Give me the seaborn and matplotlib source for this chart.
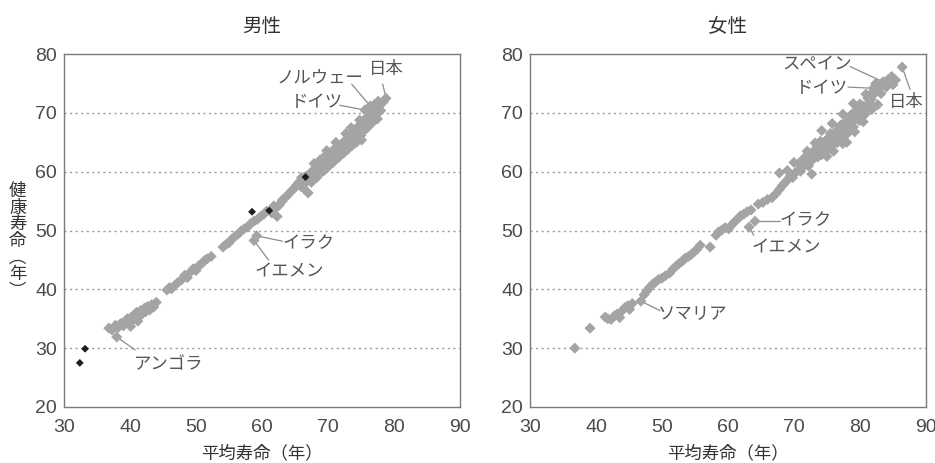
import matplotlib
matplotlib.use("Agg")
import matplotlib.pyplot as plt
import seaborn as sns
import pandas as pd

# ---- 男性: 平均寿命 (x) と 健康寿命 (y) ----
male_life = [
    36.8, 37.3, 37.8, 38.2, 38.6, 39.0, 39.3, 39.6, 39.9, 40.2, 40.5, 40.8, 41.0, 41.3,
    41.6, 41.9, 42.2, 42.4, 42.7, 43.0, 43.3, 43.6, 44.0, 40.1, 41.2,
    45.6, 46.0, 46.3, 46.8, 47.3, 47.8, 48.3, 48.7, 49.2, 49.6, 50.0, 50.4, 50.8, 51.3,
    51.7, 52.3,
    54.1, 54.5, 55.0, 55.4, 55.9, 56.4, 56.8, 57.3, 57.8, 58.3, 58.8, 59.3,
    59.8, 60.3, 60.7, 61.5, 62.0, 62.3, 62.6, 63.0, 63.4, 63.8, 64.2, 64.6, 61.8, 63.1,
    65.0, 65.3, 65.6, 65.9, 66.2, 66.5, 66.8, 67.0, 67.2, 67.4, 67.7, 68.0, 68.2, 68.5,
    68.7, 69.0, 69.2, 69.5, 69.7, 70.0, 70.2, 70.4, 70.7, 71.0, 71.2, 71.5, 71.8, 72.0,
    72.3, 72.6, 72.9, 73.2, 73.5, 73.8, 74.1, 74.4, 74.7, 75.1, 75.3, 75.6, 75.9, 76.2,
    76.5, 76.8, 77.1, 77.4, 77.5, 77.8, 78.1, 78.4, 66.0, 68.8, 70.5, 71.4, 72.8, 74.0,
    75.5, 76.0, 77.0, 69.4,
    66.3, 67.5, 68.3, 69.1, 70.0, 70.8, 71.6, 72.4, 73.0, 73.7, 74.3, 75.0, 75.8, 76.6,
    77.3, 67.9, 69.8, 71.2, 72.7, 73.5, 74.8, 76.3, 77.6, 78.0,
    38.0, 59.2, 58.8, 75.6, 76.4, 78.8,
]
male_healthy = [
    33.4, 33.1, 33.9, 33.5, 34.2, 33.8, 34.6, 35.0, 34.3, 35.3, 34.8, 35.6, 36.1, 35.2,
    36.4, 35.9, 36.8, 36.2, 37.1, 36.5, 37.4, 37.0, 37.8, 33.7, 34.6,
    39.9, 40.3, 40.1, 40.7, 41.2, 41.6, 42.4, 42.0, 43.0, 43.5, 43.2, 44.0, 44.3, 44.9,
    45.2, 45.6,
    47.2, 47.6, 47.9, 48.5, 49.0, 49.4, 49.9, 50.3, 50.6, 51.2, 51.6, 51.9,
    52.4, 52.8, 53.3, 53.0, 53.7, 52.4, 54.3, 54.9, 55.5, 55.9, 56.4, 56.9, 54.2, 55.2,
    57.3, 57.8, 58.2, 57.5, 58.6, 58.0, 59.3, 56.4, 58.8, 59.7, 60.2, 59.6, 60.8, 61.2,
    60.4, 61.7, 62.3, 61.5, 62.7, 62.1, 63.2, 62.6, 63.6, 63.0, 64.0, 63.5, 64.5, 63.9,
    65.0, 64.4, 65.5, 65.9, 65.2, 66.4, 66.9, 67.5, 66.6, 65.4, 68.0, 68.6, 69.3, 68.9,
    69.8, 70.3, 70.8, 70.0, 69.0, 71.2, 71.6, 71.9, 59.0, 62.0, 61.8, 62.8, 64.0, 65.6,
    67.2, 70.2, 71.4, 60.2,
    57.2, 58.2, 59.0, 60.0, 60.8, 61.6, 62.4, 63.2, 63.8, 64.5, 65.0, 66.2, 67.3, 68.2,
    69.0, 61.4, 63.6, 65.0, 66.5, 67.5, 68.8, 70.8, 72.0, 70.4,
    31.9, 49.1, 48.3, 70.5, 71.2, 72.5,
]
# 黒で示す国
male_dark_life = [32.4, 33.2, 58.5, 61.1, 66.6]
male_dark_healthy = [27.5, 29.9, 53.2, 53.4, 59.1]

# ---- 女性 ----
female_life = [
    36.8, 39.1, 41.4, 41.8, 42.3, 42.8, 43.2, 43.6, 44.0, 44.4, 44.8, 45.1, 45.5,
    46.8, 47.3, 47.7, 48.1, 48.6, 49.0, 49.5, 50.0, 50.5, 51.2, 51.7, 52.2, 52.6, 53.1,
    53.5, 54.0, 54.4, 54.9, 55.3, 55.8, 57.3, 58.2, 58.6, 59.1, 59.6, 60.1, 60.6, 61.0,
    61.5, 61.9, 62.4, 62.9, 63.5, 64.6, 65.3, 66.0, 66.7, 67.3, 67.8, 68.2, 68.6, 69.0,
    69.4, 69.8, 70.2, 70.6, 71.0, 71.4, 71.8, 72.2, 72.7, 72.6, 73.0, 73.3, 73.6, 73.9,
    74.2, 74.5, 74.8, 75.1, 75.4, 75.7, 76.0, 76.3, 76.6, 76.9, 77.2, 77.5, 77.8, 78.1,
    78.4, 78.7, 79.0, 79.3, 79.6, 79.9, 80.2, 80.5, 80.8, 81.1, 81.4, 81.7, 82.3, 82.7,
    82.6, 83.0, 83.4, 83.8, 84.2, 84.6, 85.0, 85.4, 74.0, 75.5, 77.0, 78.5, 80.0, 76.0,
    78.0, 80.5, 72.0, 73.2,
    70.8, 71.6, 72.4, 73.2, 74.0, 74.8, 75.6, 76.4, 77.2, 78.0, 78.8, 79.6, 80.4, 81.2,
    82.0, 83.2, 84.0, 85.0, 74.2, 75.8, 77.4, 79.0, 80.9, 81.8, 79.2, 77.4, 75.0, 82.4,
    84.8, 69.0, 70.0, 67.8,
    83.5, 82.0, 86.4, 64.1, 63.2,
]
female_healthy = [
    30.0, 33.4, 35.3, 35.0, 34.9, 35.5, 35.8, 35.2, 36.4, 36.9, 37.2, 36.6, 37.6,
    38.0, 39.1, 39.7, 40.3, 40.9, 41.2, 41.7, 41.9, 42.3, 42.8, 43.5, 44.0, 44.4, 44.8,
    45.3, 45.6, 45.9, 46.4, 46.8, 47.5, 47.2, 49.2, 49.8, 50.1, 50.5, 50.3, 51.0, 51.5,
    52.0, 52.5, 52.8, 53.2, 53.5, 54.5, 54.8, 55.3, 55.6, 56.3, 57.0, 57.6, 58.1, 58.6,
    59.2, 59.0, 59.8, 60.3, 60.1, 60.9, 61.4, 61.0, 59.6, 61.8, 62.3, 63.0, 62.5, 63.6,
    62.9, 64.1, 63.4, 64.6, 64.0, 65.1, 64.6, 65.6, 65.0, 66.2, 65.6, 66.7, 67.3, 66.5,
    67.8, 68.4, 67.6, 68.9, 69.5, 68.7, 70.0, 70.6, 69.8, 71.1, 71.8, 72.3, 73.4, 71.4,
    74.0, 74.4, 74.9, 75.2, 75.6, 75.4, 75.9, 75.6, 65.2, 66.5, 67.8, 69.5, 71.5, 63.5,
    65.0, 68.5, 63.5, 64.9,
    61.5, 62.4, 62.9, 63.8, 64.3, 65.3, 66.1, 66.9, 68.0, 68.6, 69.8, 70.6, 71.2, 72.5,
    73.6, 73.3, 74.4, 74.8, 67.0, 68.2, 69.8, 71.6, 73.2, 70.6, 66.8, 64.8, 62.6, 75.0,
    76.2, 60.2, 61.6, 59.8,
    75.3, 74.2, 77.8, 51.6, 50.6,
]

x_ticks = [30, 40, 50, 60, 70, 80, 90]
y_ticks = [20, 30, 40, 50, 60, 70, 80]
grid_levels = [30, 40, 50, 60, 70]

# 注記: (ラベル, 点のx, 点のy, 文字のx, 文字のy, 線の始点x, 線の始点y)
male_notes = [
    ("日本", 78.8, 72.5, 78.9, 77.5, 78.3, 74.9),
    ("ノルウェー", 76.4, 71.2, 68.8, 76.0, 73.6, 74.9),
    ("ドイツ", 75.6, 70.5, 68.3, 71.8, 71.8, 71.3),
    ("イラク", 59.2, 49.1, 67.0, 47.9, 63.1, 48.2),
    ("イエメン", 58.8, 48.3, 64.2, 43.0, 61.0, 45.0),
    ("アンゴラ", 38.0, 31.9, 45.8, 27.3, 40.8, 29.7),
]
female_notes = [
    ("スペイン", 83.5, 75.3, 73.5, 78.2, 78.5, 77.9),
    ("ドイツ", 82.0, 74.2, 74.3, 74.2, 78.2, 74.4),
    ("日本", 86.4, 77.8, 87.1, 71.9, 87.6, 74.0),
    ("イラク", 64.1, 51.6, 71.7, 51.8, 67.9, 51.6),
    ("イエメン", 63.2, 50.6, 68.9, 47.2, 63.9, 49.2),
    ("ソマリア", 46.8, 38.0, 54.7, 36.0, 49.7, 36.4),
]

sns.set_theme(style="white")
plt.rcParams["font.family"] = ["Noto Sans CJK JP", "DejaVu Sans"]

GRAY = "#a4a4a4"
TEXT = "#4a4a4a"
SPINE = "#7a7a7a"

fig = plt.figure(figsize=(9.35, 4.63), dpi=100)
ax_m = fig.add_axes([0.0684, 0.121, 0.4235, 0.762])
ax_f = fig.add_axes([0.5668, 0.121, 0.4235, 0.762])


def style_axes(ax, title):
    ax.set_xlim(30, 90)
    ax.set_ylim(20, 80)
    ax.set_xticks(x_ticks)
    ax.set_yticks(y_ticks)
    ax.set_xticklabels([str(t) for t in x_ticks], family="Liberation Sans",
                       fontsize=14, color=TEXT)
    ax.set_yticklabels([str(t) for t in y_ticks], family="Liberation Sans",
                       fontsize=14, color=TEXT)
    ax.tick_params(axis="both", direction="in", length=3, width=0.8,
                   color="#aaaaaa")
    ax.tick_params(axis="x", pad=9)
    ax.tick_params(axis="y", pad=5)
    for s in ax.spines.values():
        s.set_visible(True)
        s.set_color(SPINE)
        s.set_linewidth(1.0)
    for g in grid_levels:
        ax.axhline(g, color="#9a9a9a", lw=1.0, ls=(0, (1.5, 2.5)), zorder=0)
    ax.set_title(title, fontsize=14, color="#333333", pad=16)
    ax.set_xlabel("平均寿命（年）", fontsize=12.5, color="#333333", labelpad=6)
    ax.set_ylabel("")


def annotate(ax, notes):
    for label, px, py, tx, ty, lx, ly in notes:
        ax.plot([lx, px], [ly, py], color="#8c8c8c", lw=0.9, zorder=1)
        ax.text(tx, ty, label, ha="center", va="center", fontsize=12.5,
                color="#555555", zorder=4)


male_df = pd.DataFrame({"平均寿命": male_life, "健康寿命": male_healthy})
male_dark_df = pd.DataFrame({"平均寿命": male_dark_life, "健康寿命": male_dark_healthy})
female_df = pd.DataFrame({"平均寿命": female_life, "健康寿命": female_healthy})

sns.scatterplot(data=male_df, x="平均寿命", y="健康寿命", ax=ax_m, marker="D",
                s=32, color=GRAY, edgecolor="none", zorder=3)
sns.scatterplot(data=male_dark_df, x="平均寿命", y="健康寿命", ax=ax_m, marker="D",
                s=16, color="#1e1e1e", edgecolor="none", zorder=4)
sns.scatterplot(data=female_df, x="平均寿命", y="健康寿命", ax=ax_f, marker="D",
                s=32, color=GRAY, edgecolor="none", zorder=3)

style_axes(ax_m, "男性")
style_axes(ax_f, "女性")
annotate(ax_m, male_notes)
annotate(ax_f, female_notes)

# 縦書きの縦軸ラベル
fig.text(0.019, 0.48, "健\n康\n寿\n命\n︵\n年\n︶", ha="center", va="center",
         fontsize=12.5, color="#333333", linespacing=0.9)

fig.savefig("out.png", dpi=100, facecolor="white")
